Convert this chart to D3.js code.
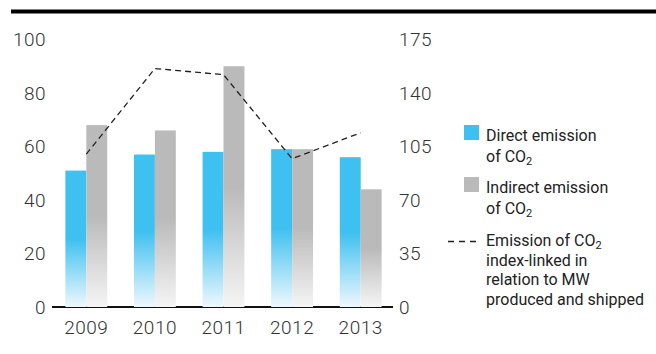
<!DOCTYPE html>
<html>
<head>
<meta charset="utf-8">
<script src="https://cdn.jsdelivr.net/npm/d3@7"></script>
<style>
  html, body { margin: 0; padding: 0; background: #fff; }
  svg { display: block; }
  .num { font-family: Roboto, sans-serif; font-size: 19px; font-weight: 300; fill: #333; letter-spacing: 0.5px; }
  .leg { font-family: Roboto, sans-serif; font-size: 16px; fill: #222; }
</style>
</head>
<body>
<svg id="chart" width="656" height="354"></svg>
<script>
// CO2 emissions per year (left axis) and index-linked emission (right axis)
const years = ["2009", "2010", "2011", "2012", "2013"];
const directEmission = [51, 57, 58, 59, 56];
const indirectEmission = [68, 66, 90, 59, 44];
const emissionIndex = [100, 156, 152, 97, 114];
const leftTicks = [0, 20, 40, 60, 80, 100];
const rightTicks = [0, 35, 70, 105, 140, 175];

const svg = d3.select("#chart");
const W = 656, H = 354;
const x0 = 52, x1 = 395, yBase = 307, yTop = 39.5;

// heavy rule across the top
svg.append("rect").attr("x", 11).attr("y", 9.5).attr("width", W - 11).attr("height", 4).attr("fill", "#000");

const x = d3.scaleBand().domain(years).range([x0, x1]).paddingInner(0.39).paddingOuter(0.195);
const xs = d3.scaleBand().domain(["direct", "indirect"]).range([0, x.bandwidth()]);
const yL = d3.scaleLinear().domain([0, 100]).range([yBase, yTop]);
const yR = d3.scaleLinear().domain([0, 175]).range([yBase, yTop]);

// gradients: solid colour on the upper half, fading out toward the baseline
const defs = svg.append("defs");
function fade(id, solid, light) {
  const g = defs.append("linearGradient").attr("id", id)
    .attr("x1", 0).attr("y1", 0).attr("x2", 0).attr("y2", 1);
  g.append("stop").attr("offset", 0).attr("stop-color", solid);
  g.append("stop").attr("offset", 0.5).attr("stop-color", solid);
  g.append("stop").attr("offset", 1).attr("stop-color", light);
}
fade("gDirect", "#3ec0f0", "#eef8fe");
fade("gIndirect", "#bababa", "#f5f5f5");

// left axis labels
svg.append("g").selectAll("text").data(leftTicks).join("text")
  .attr("class", "num").attr("x", 46).attr("y", d => yL(d))
  .attr("dy", "0.36em").attr("text-anchor", "end").text(d => d);

// right axis labels
svg.append("g").selectAll("text").data(rightTicks).join("text")
  .attr("class", "num").attr("x", 399).attr("y", d => yR(d))
  .attr("dy", "0.36em").attr("text-anchor", "start").text(d => d);

// baseline
svg.append("line").attr("x1", x0).attr("x2", 393).attr("y1", yBase).attr("y2", yBase)
  .attr("stroke", "#111").attr("stroke-width", 2);

// bars
const groups = svg.append("g").selectAll("g").data(years).join("g")
  .attr("transform", d => `translate(${x(d)},0)`);
groups.append("rect")
  .attr("x", xs("direct")).attr("width", xs.bandwidth())
  .attr("y", (d, i) => yL(directEmission[i]))
  .attr("height", (d, i) => yBase - yL(directEmission[i]))
  .attr("fill", "url(#gDirect)");
groups.append("rect")
  .attr("x", xs("indirect")).attr("width", xs.bandwidth())
  .attr("y", (d, i) => yL(indirectEmission[i]))
  .attr("height", (d, i) => yBase - yL(indirectEmission[i]))
  .attr("fill", "url(#gIndirect)");

// year labels
svg.append("g").selectAll("text").data(years).join("text")
  .attr("class", "num").attr("x", d => x(d) + x.bandwidth() / 2).attr("y", 334)
  .attr("text-anchor", "middle").text(d => d);

// index line (right axis)
const line = d3.line()
  .x((d, i) => x(years[i]) + x.bandwidth() / 2)
  .y(d => yR(d));
svg.append("path").datum(emissionIndex).attr("d", line)
  .attr("fill", "none").attr("stroke", "#222").attr("stroke-width", 1.3)
  .attr("stroke-dasharray", "6,4");

// legend
const leg = svg.append("g");
function co2Lines(xp, ys, parts) {
  parts.forEach((p, i) => {
    const t = leg.append("text").attr("class", "leg").attr("x", xp).attr("y", ys[i]);
    if (p.endsWith("CO2")) {
      t.append("tspan").text(p.slice(0, -1));
      t.append("tspan").attr("font-size", "11px").attr("dy", 3).text("2");
    } else {
      t.text(p);
    }
  });
}
leg.append("rect").attr("x", 464).attr("y", 125).attr("width", 15).attr("height", 15).attr("fill", "#3ec0f0");
co2Lines(486, [141, 162], ["Direct emission", "of CO2"]);
leg.append("rect").attr("x", 464).attr("y", 177).attr("width", 15).attr("height", 15).attr("fill", "#bababa");
co2Lines(486, [192.5, 213.5], ["Indirect emission", "of CO2"]);
leg.append("line").attr("x1", 448).attr("x2", 480).attr("y1", 241.5).attr("y2", 241.5)
  .attr("stroke", "#222").attr("stroke-width", 1.3).attr("stroke-dasharray", "6,5");
co2Lines(486, [246, 265.5, 285, 304.5], ["Emission of CO2", "index-linked in", "relation to MW", "produced and shipped"]);
</script>
</body>
</html>
